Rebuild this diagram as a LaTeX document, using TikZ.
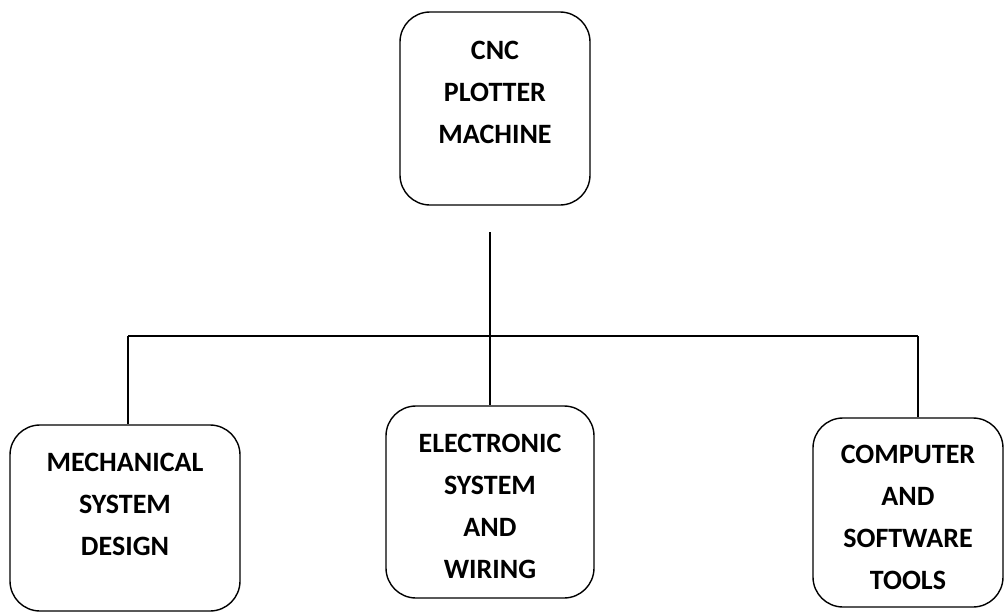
\documentclass[tikz,border=0pt]{standalone}
\usepackage{fontspec}
\setmainfont{Carlito}
\usepackage{tikz}
\usetikzlibrary{positioning}
\tikzset{
  partbox/.style={draw=black,line width=1.4pt,rounded corners=30pt,fill=white},
  parttext/.style={font=\bfseries\fontsize{28}{42}\selectfont,align=center,inner sep=0pt},
  treeline/.style={draw=black,line width=1.4pt}
}

\begin{document}
\begin{tikzpicture}[x=1pt,y=-1pt]
  \useasboundingbox (0,0) rectangle (1004,613);
  % main block and its three parts
  \node[partbox,minimum width=190pt,minimum height=193pt,
    label={[parttext,name=cnctext,yshift=16pt]center:{CNC\\PLOTTER\\MACHINE}}] (cnc) at (495,108.5) {};
  \node[partbox,minimum width=230pt,minimum height=186pt,
    label={[parttext,name=mechtext,yshift=14pt]center:{MECHANICAL\\SYSTEM\\DESIGN}}] (mech) at (125,518) {};
  \node[partbox,minimum width=208pt,minimum height=192pt,
    label={[parttext,name=electext,yshift=-4pt]center:{ELECTRONIC\\SYSTEM\\AND\\WIRING}}] (elec) at (490,502) {};
  \node[partbox,minimum width=190pt,minimum height=189pt,
    label={[parttext,name=softtext,yshift=-5pt]center:{COMPUTER\\AND\\SOFTWARE\\TOOLS}}] (soft) at (908,512.5) {};
  % tree lines
  \coordinate (stem) at (490,232);
  \coordinate (busL) at (128,336);
  \coordinate (busR) at (918,336);
  \draw[treeline] (stem) -- (elec.north);
  \draw[treeline] (busL) -- (busR);
  \draw[treeline] (busL) -- (busL |- mech.north);
  \draw[treeline] (busR) -- (busR |- soft.north);
\end{tikzpicture}
\end{document}
